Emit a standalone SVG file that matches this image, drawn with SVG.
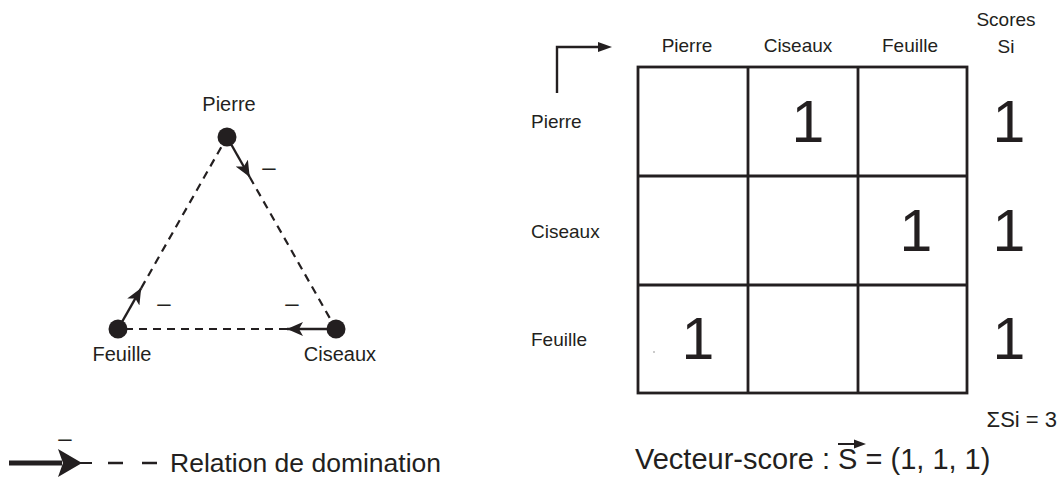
<svg xmlns="http://www.w3.org/2000/svg" width="1061" height="479" viewBox="0 0 1061 479">
<defs>
<style>
text{font-family:"Liberation Sans",Arial,sans-serif;fill:#231f20}
.lbl{font-size:19px}
.tl{font-size:20px;text-anchor:middle}
.big{font-size:59px;text-anchor:middle}
.minus{font-size:24px;text-anchor:middle}
.dash{stroke:#231f20;stroke-width:2.2;stroke-dasharray:8 6;fill:none}
.solid{stroke:#231f20;stroke-width:2.4;fill:none}
.grid{stroke:#231f20;stroke-width:2.8;fill:none}
.dot{fill:#231f20}
</style>
<marker id="ah" viewBox="0 0 16 14" refX="16" refY="7" markerWidth="16" markerHeight="14" markerUnits="userSpaceOnUse" orient="auto">
<path d="M0,0 L16,7 L0,14 L4,7 Z" fill="#231f20"/>
</marker>
</defs>
<rect width="1061" height="479" fill="#fff"/>

<g id="connectors">
<line class="dash" x1="249.7" y1="177" x2="336" y2="329"/>
<line class="dash" x1="141.2" y1="288.1" x2="227" y2="137"/>
<line class="dash" x1="287" y1="329" x2="118" y2="329"/>
<line class="solid" x1="227" y1="137" x2="249.7" y2="177" marker-end="url(#ah)"/>
<line class="solid" x1="118" y1="329" x2="141.2" y2="288.1" marker-end="url(#ah)"/>
<line class="solid" x1="336" y1="329" x2="287" y2="329" marker-end="url(#ah)"/>
<text class="minus" x="269" y="175">–</text>
<text class="minus" x="164" y="311">–</text>
<text class="minus" x="292" y="311">–</text>
</g>

<g id="node-pierre">
<circle class="dot" cx="227" cy="137" r="9.5"/>
<text class="tl" x="229" y="111">Pierre</text>
</g>
<g id="node-feuille">
<circle class="dot" cx="118" cy="329" r="9.5"/>
<text class="tl" x="122" y="361">Feuille</text>
</g>
<g id="node-ciseaux">
<circle class="dot" cx="336" cy="329" r="9.5"/>
<text class="tl" x="340" y="361">Ciseaux</text>
</g>

<g id="legend">
<line x1="9" y1="463" x2="62" y2="463" stroke="#231f20" stroke-width="5"/>
<path d="M58,449 L82,463 L58,477 L63,463 Z" fill="#231f20"/>
<line x1="80" y1="463" x2="92" y2="463" stroke="#231f20" stroke-width="2"/>
<text class="minus" x="65" y="446">–</text>
<line x1="108" y1="463" x2="157" y2="463" stroke="#231f20" stroke-width="2.4" stroke-dasharray="15 19"/>
<text x="170" y="472" font-size="26.5">Relation de domination</text>
</g>

<g id="matrix">
<path d="M557,93 V47 H600" stroke="#231f20" stroke-width="2.4" fill="none"/>
<path d="M598,42 L612,47 L598,52 Z" fill="#231f20"/>
<text class="lbl" x="687" y="52" text-anchor="middle">Pierre</text>
<text class="lbl" x="798" y="52" text-anchor="middle">Ciseaux</text>
<text class="lbl" x="910" y="52" text-anchor="middle">Feuille</text>
<text class="lbl" x="1006" y="26" text-anchor="middle">Scores</text>
<text class="lbl" x="1006" y="53" text-anchor="middle">Si</text>
<text class="lbl" x="531" y="128">Pierre</text>
<text class="lbl" x="531" y="238">Ciseaux</text>
<text class="lbl" x="531" y="346">Feuille</text>
<rect class="grid" x="638" y="67" width="329" height="326"/>
<line class="grid" x1="748" y1="67" x2="748" y2="393"/>
<line class="grid" x1="858" y1="67" x2="858" y2="393"/>
<line class="grid" x1="638" y1="176" x2="967" y2="176"/>
<line class="grid" x1="638" y1="285" x2="967" y2="285"/>
<text class="big" x="808" y="142">1</text>
<text class="big" x="916" y="251">1</text>
<text class="big" x="698" y="359">1</text>
<circle cx="654" cy="352" r="0.8" fill="#888"/>
<text class="big" x="1009" y="142">1</text>
<text class="big" x="1009" y="251">1</text>
<text class="big" x="1009" y="359">1</text>
<text x="1057" y="427" font-size="22" text-anchor="end">ΣSi = 3</text>
<text x="635" y="469" font-size="29">Vecteur-score : S = (1, 1, 1)</text>
<line x1="838" y1="444" x2="860" y2="444" stroke="#231f20" stroke-width="2"/>
<path d="M854,439.5 L866,444 L854,448.5 Z" fill="#231f20"/>
</g>
</svg>
